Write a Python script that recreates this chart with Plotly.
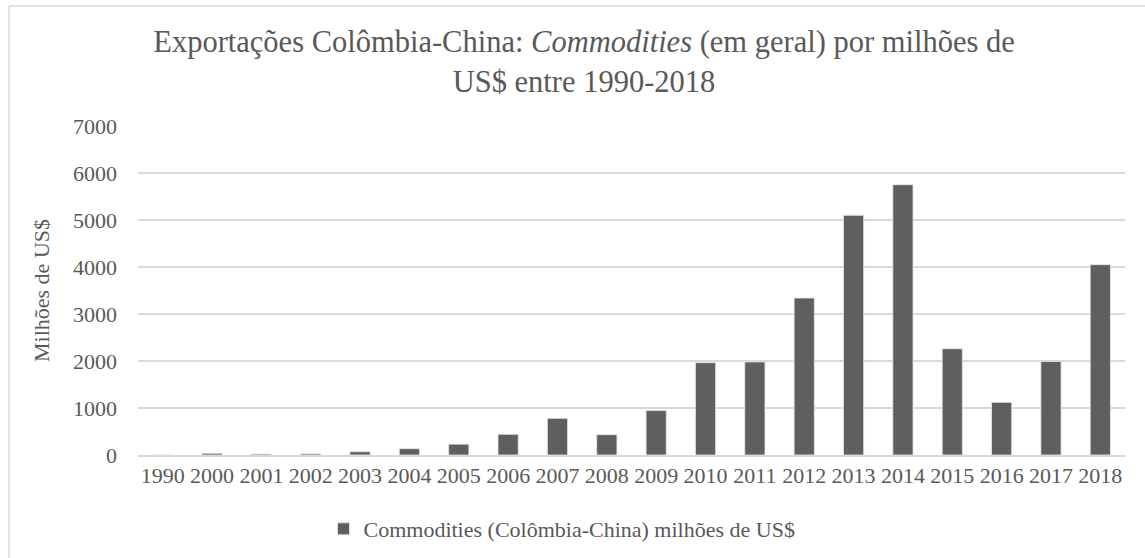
import plotly.graph_objects as go

years = ["1990", "2000", "2001", "2002", "2003", "2004", "2005", "2006", "2007", "2008",
         "2009", "2010", "2011", "2012", "2013", "2014", "2015", "2016", "2017", "2018"]
values = [0, 36, 20, 25, 70, 134, 230, 440, 780, 432,
          945, 1965, 1980, 3340, 5100, 5750, 2260, 1120, 1990, 4050]
series_name = "Commodities (Colômbia-China) milhões de US$"
title_text = ("Exportações Colômbia-China: <i>Commodities</i> (em geral) por milhões de"
              "<br>US$ entre 1990-2018")
y_title = "Milhões de US$"

FONT = "Liberation Serif, Times New Roman, serif"
TXT = "#595959"
GRID = "#d9d9d9"

fig = go.Figure()
fig.add_trace(go.Bar(
    x=years, y=values, name=series_name,
    marker=dict(color="#5f5f5f", line=dict(color="#e8e8e8", width=0.8)),
    showlegend=True,
))

W, H = 1145, 558
L, R, T, B = 138, 20, 126, 103
pw, ph = W - L - R, H - T - B

def px_x(x):
    return (x - L) / pw

def px_y(y):
    return (H - B - y) / ph

fig.update_layout(
    width=W, height=H,
    margin=dict(l=L, r=R, t=T, b=B, autoexpand=False),
    paper_bgcolor="white", plot_bgcolor="white",
    font=dict(family=FONT, color=TXT, size=22),
    title=dict(text=title_text, x=584 / W, xanchor="center",
               y=1 - 52 / H, yanchor="top", yref="container",
               font=dict(family=FONT, size=30.5, color=TXT)),
    bargap=0.59,
    legend=dict(orientation="h", x=px_x(562), xanchor="center",
                y=px_y(529), yanchor="middle",
                font=dict(family=FONT, size=22, color=TXT),
                itemwidth=30),
    xaxis=dict(type="category", showgrid=False, showline=True, linecolor=GRID,
               linewidth=1.5, ticks="", tickfont=dict(size=22, color=TXT),
               ticklabelstandoff=0, automargin=False),
    yaxis=dict(range=[0, 7000], dtick=1000, showgrid=True, gridcolor=GRID,
               gridwidth=1.5, zeroline=False, showline=False, ticks="",
               tickfont=dict(size=22, color=TXT), ticklabelstandoff=20,
               automargin=False,
               title=dict(text=y_title, font=dict(size=22, color=TXT), standoff=17)),
    shapes=[
        dict(type="line", xref="paper", yref="paper",
             x0=px_x(9), x1=px_x(1145), y0=px_y(6), y1=px_y(6),
             line=dict(color=GRID, width=1.5)),
        dict(type="line", xref="paper", yref="paper",
             x0=px_x(9), x1=px_x(9), y0=px_y(6), y1=px_y(558),
             line=dict(color=GRID, width=1.5)),
    ],
)

fig.write_html("out.html", config={"displayModeBar": False},
               post_script="document.body.style.margin='0';")
